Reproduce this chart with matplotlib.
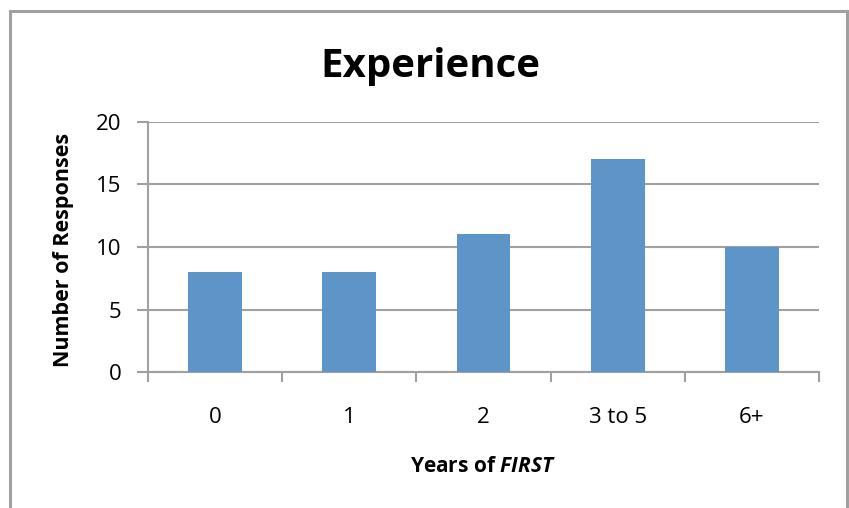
import matplotlib
matplotlib.use("Agg")

import matplotlib.pyplot as plt
from matplotlib.patches import Rectangle

categories = ["0", "1", "2", "3 to 5", "6+"]
responses = [8, 8, 11, 17, 10]
y_ticks = [0, 5, 10, 15, 20]

W, H = 849, 508
BAR_BLUE = "#5E95C9"
GRID_GRAY = "#A0A0A0"

plt.rcParams["font.family"] = ["Open Sans", "DejaVu Sans"]
plt.rcParams["mathtext.fontset"] = "custom"
plt.rcParams["mathtext.bfit"] = "Open Sans:italic:bold"

fig = plt.figure(figsize=(W / 100, H / 100), dpi=100)

# outer chart frame (bottom edge runs off the image)
fig.patches.append(Rectangle((10 / W, -0.05), 837 / W, 1.05 - 11 / H,
                             transform=fig.transFigure, fill=False,
                             edgecolor=GRID_GRAY, linewidth=2.2))

ax = fig.add_axes([148 / W, 1 - 372 / H, (819 - 148) / W, (372 - 122) / H])
x = range(len(categories))
ax.bar(x, responses, width=0.4, color=BAR_BLUE, zorder=3)

ax.set_xlim(-0.5, len(categories) - 0.5)
ax.set_ylim(0, 20)
ax.set_yticks(y_ticks)
ax.set_xticks([i - 0.5 for i in range(len(categories) + 1)], minor=False)
ax.set_xticklabels([])
ax.set_xticks(list(x), minor=True)
ax.set_xticklabels(categories, minor=True)
ax.tick_params(axis="x", which="major", direction="out", length=7,
               width=1.5, color=GRID_GRAY)
ax.tick_params(axis="x", which="minor", length=0, pad=25, labelsize=16)
ax.tick_params(axis="y", direction="out", length=8, width=1.5,
               color=GRID_GRAY, labelsize=16, pad=11)

ax.yaxis.grid(True, color=GRID_GRAY, linewidth=1.5, zorder=0)
for side in ("top", "right"):
    ax.spines[side].set_visible(False)
for side in ("left", "bottom"):
    ax.spines[side].set_color(GRID_GRAY)
    ax.spines[side].set_linewidth(1.5)

fig.text(430 / W, 1 - 66 / H, "Experience", ha="center", va="center",
         fontsize=29, fontweight="bold")
fig.text(63 / W, 1 - 250 / H, "Number of Responses", ha="center",
         va="center", rotation=90, fontsize=15.5, fontweight="bold")
fig.text(483 / W, 1 - 466 / H, r"Years of $\bfit{FIRST}$", ha="center",
         va="center", fontsize=15, fontweight="bold")

fig.savefig("out.png", dpi=100)
plt.close(fig)
